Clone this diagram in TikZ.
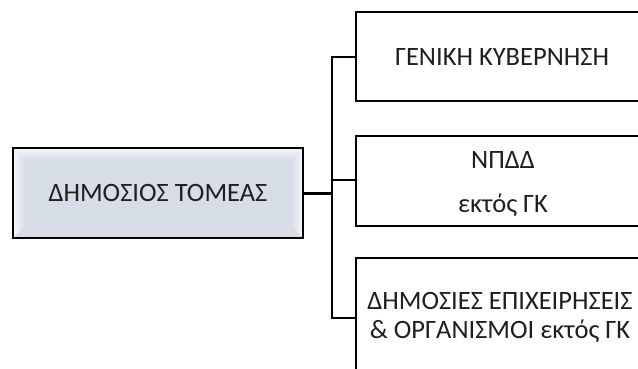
\documentclass[tikz,border=0pt]{standalone}
\usepackage{fontspec}
\setmainfont{Carlito}
\definecolor{boxfill}{RGB}{214,221,231}
\definecolor{bevlight}{RGB}{246,248,250}
\begin{document}
\begin{tikzpicture}[x=1pt,y=-1pt,
  box/.style={draw=black,line width=1.4pt,fill=white},
  lbl/.style={font=\fontsize{26.5}{29}\selectfont,align=center,text=black!88,inner sep=0pt},
  conn/.style={line width=1.6pt,draw=black},
  thickconn/.style={line width=3pt,draw=black}]
\useasboundingbox (0,0) rectangle (638,369);
\clip (0,0) rectangle (638,369);
% left bevelled box
\fill[boxfill] (13,148) rectangle (303,238);
\shade[left color=bevlight,right color=boxfill] (13,148) -- (25,160) -- (25,226) -- (13,238) -- cycle;
\shade[left color=boxfill,right color=bevlight] (303,148) -- (291,160) -- (291,226) -- (303,238) -- cycle;
\shade[top color=bevlight,bottom color=boxfill] (13,148) -- (303,148) -- (291,160) -- (25,160) -- cycle;
\draw[line width=1.4pt] (13,148) rectangle (303,238);
\node[lbl] (ds) at (158,193) {ΔΗΜΟΣΙΟΣ ΤΟΜΕΑΣ};
\coordinate (dsr) at (303,193);
% right boxes
\draw[box] (356,12) rectangle (660,101);
\node[lbl] (gk) at (502,57) {ΓΕΝΙΚΗ ΚΥΒΕΡΝΗΣΗ};
\coordinate (gkl) at (356,57);
\draw[box] (356,136) rectangle (660,226);
\node[lbl,font=\fontsize{26.5}{44}\selectfont] (np) at (503,184) {ΝΠΔΔ\\εκτός ΓΚ};
\coordinate (npl) at (356,180);
\draw[box] (356,258) rectangle (660,400);
\node[lbl] (de) at (500,317) {ΔΗΜΟΣΙΕΣ ΕΠΙΧΕΙΡΗΣΕΙΣ\\\& ΟΡΓΑΝΙΣΜΟΙ εκτός ΓΚ};
\coordinate (del) at (356,318);
% connectors
\coordinate (j) at (332,193);
\draw[thickconn] (dsr) -- (j);
\draw[conn] (gkl) -- (332,57) -- (332,318) -- (del);
\draw[conn] (npl) -- (332,180);
\end{tikzpicture}
\end{document}
